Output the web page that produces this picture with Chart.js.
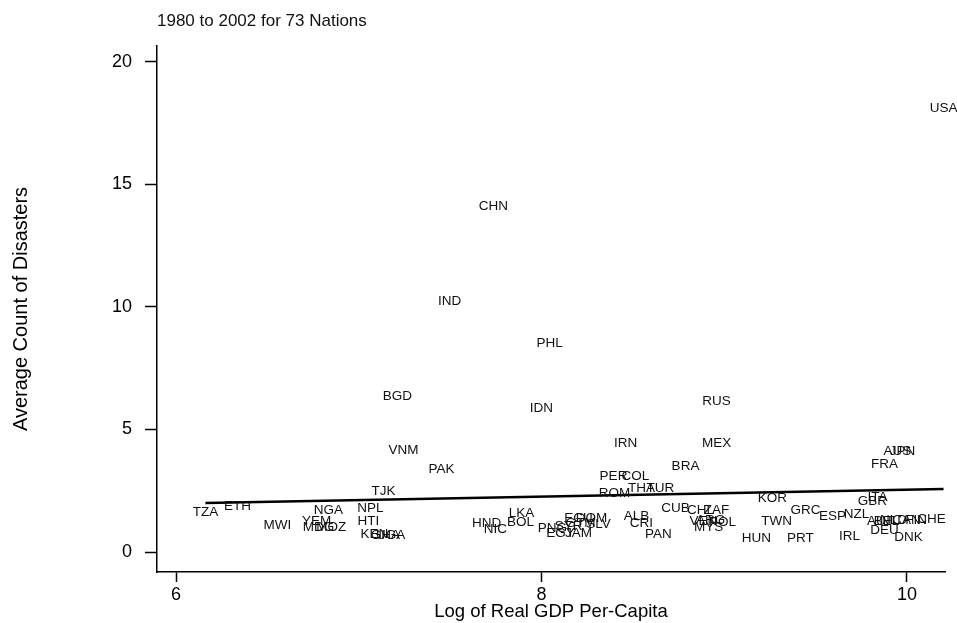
<!DOCTYPE html>
<html>
<head>
<meta charset="utf-8">
<script src="https://cdn.jsdelivr.net/npm/chart.js@4.4.0/dist/chart.umd.min.js"></script>
<style>
  html, body { margin: 0; padding: 0; background: #fff; }
  #wrap { width: 957px; height: 623px; }
</style>
</head>
<body>
<div id="wrap"><canvas id="chart"></canvas></div>
<script>
const nations = ['USA','CHN','IND','PHL','BGD','IDN','RUS','VNM','PAK','IRN','MEX','BRA','PER','COL','THA','TUR','ROM','TJK',
  'TZA','ETH','NGA','NPL','HTI','MWI','YEM','MDG','MOZ','KEN','GHA','UGA','HND','NIC','LKA','BOL','PNG','EGY','SYR','ECU',
  'GTM','JAM','DOM','SLV','ALB','CRI','PAN','CUB','CHL','ZAF','VEN','ARG','POL','MYS','KOR','TWN','GRC','HUN','PRT','ESP',
  'NZL','IRL','GBR','ITA','FRA','AUS','JPN','AUT','BEL','NLD','CAN','FIN','CHE','DEU','DNK'];
const logGdp = [10.2,7.737,7.497,8.044,7.212,8.0,8.958,7.245,7.453,8.46,8.958,8.788,8.394,8.514,8.547,8.651,8.40,7.135,
  6.161,6.336,6.834,7.064,7.053,6.555,6.769,6.78,6.85,7.086,7.146,7.174,7.70,7.748,7.89,7.885,8.06,8.104,8.148,8.203,
  8.213,8.203,8.274,8.312,8.52,8.547,8.64,8.733,8.87,8.958,8.886,8.925,8.99,8.914,9.264,9.286,9.445,9.176,9.417,9.592,
  9.724,9.685,9.811,9.838,9.877,9.948,9.975,9.855,9.888,9.926,9.997,10.05,10.134,9.877,10.008];
const disasters = [18.12,14.12,10.24,8.53,6.37,5.88,6.16,4.16,3.39,4.45,4.45,3.51,3.10,3.10,2.61,2.61,2.41,2.49,
  1.63,1.88,1.71,1.80,1.27,1.10,1.27,1.02,1.02,0.73,0.69,0.69,1.18,0.94,1.59,1.22,0.98,0.78,1.06,1.39,
  1.18,0.78,1.39,1.14,1.47,1.18,0.73,1.80,1.71,1.71,1.27,1.31,1.22,1.02,2.20,1.27,1.71,0.57,0.57,1.47,
  1.55,0.65,2.08,2.24,3.59,4.12,4.12,1.27,1.27,1.31,1.31,1.31,1.35,0.90,0.61];

// fitted line end points
const fitX = [6.161, 10.2];
const fitY = [2.0, 2.57];

const xTicks = [6, 8, 10];
const yTicks = [0, 5, 10, 15, 20];

const FONT = '"Liberation Sans", Arial, sans-serif';

const labelPlugin = {
  id: 'nationLabels',
  afterDatasetsDraw(chart) {
    const c = chart.ctx;
    const meta = chart.getDatasetMeta(0);
    c.save();
    c.fillStyle = '#111';
    c.font = '13.5px ' + FONT;
    c.textAlign = 'center';
    c.textBaseline = 'middle';
    meta.data.forEach((pt, i) => c.fillText(nations[i], pt.x, pt.y));
    // subtitle
    c.font = '17px ' + FONT;
    c.textAlign = 'left';
    c.fillText('1980 to 2002 for 73 Nations', chart.chartArea.left, 21);
    c.restore();
  }
};

const ctx = document.getElementById('chart').getContext('2d');
new Chart(ctx, {
  type: 'scatter',
  data: {
    datasets: [{
      data: logGdp.map((x, i) => ({ x: x, y: disasters[i] })),
      pointRadius: 0
    }, {
      type: 'line',
      data: fitX.map((x, i) => ({ x: x, y: fitY[i] })),
      borderColor: '#000',
      borderWidth: 2.5,
      pointRadius: 0,
      fill: false
    }]
  },
  options: {
    responsive: true,
    maintainAspectRatio: false,
    animation: false,
    layout: { padding: { top: 46, right: 12, left: 0, bottom: 0 } },
    plugins: { legend: { display: false }, tooltip: { enabled: false } },
    scales: {
      x: {
        type: 'linear',
        min: 5.896,
        max: 10.208,
        afterBuildTicks: s => { s.ticks = xTicks.map(v => ({ value: v })); },
        afterFit: s => { s.height = 51; },
        grid: { drawOnChartArea: false, drawTicks: true, tickLength: 10, tickColor: '#000', tickWidth: 1.5 },
        border: { display: true, color: '#000', width: 1.5 },
        ticks: { color: '#000', font: { size: 18, family: FONT }, padding: 2, maxRotation: 0 },
        title: { display: true, text: 'Log of Real GDP Per-Capita', color: '#000', font: { size: 18.5, family: FONT }, padding: 0 }
      },
      y: {
        type: 'linear',
        min: -0.816,
        max: 20.65,
        afterBuildTicks: s => { s.ticks = yTicks.map(v => ({ value: v })); },
        afterFit: s => { s.width = 157; },
        grid: { drawOnChartArea: false, drawTicks: true, tickLength: 12, tickColor: '#000', tickWidth: 1.5 },
        border: { display: true, color: '#000', width: 1.5 },
        ticks: { color: '#000', font: { size: 18, family: FONT }, padding: 13 },
        title: { display: true, text: 'Average Count of Disasters', color: '#000', font: { size: 20, family: FONT }, padding: { top: 9, bottom: 0 } }
      }
    }
  },
  plugins: [labelPlugin]
});
</script>
</body>
</html>
